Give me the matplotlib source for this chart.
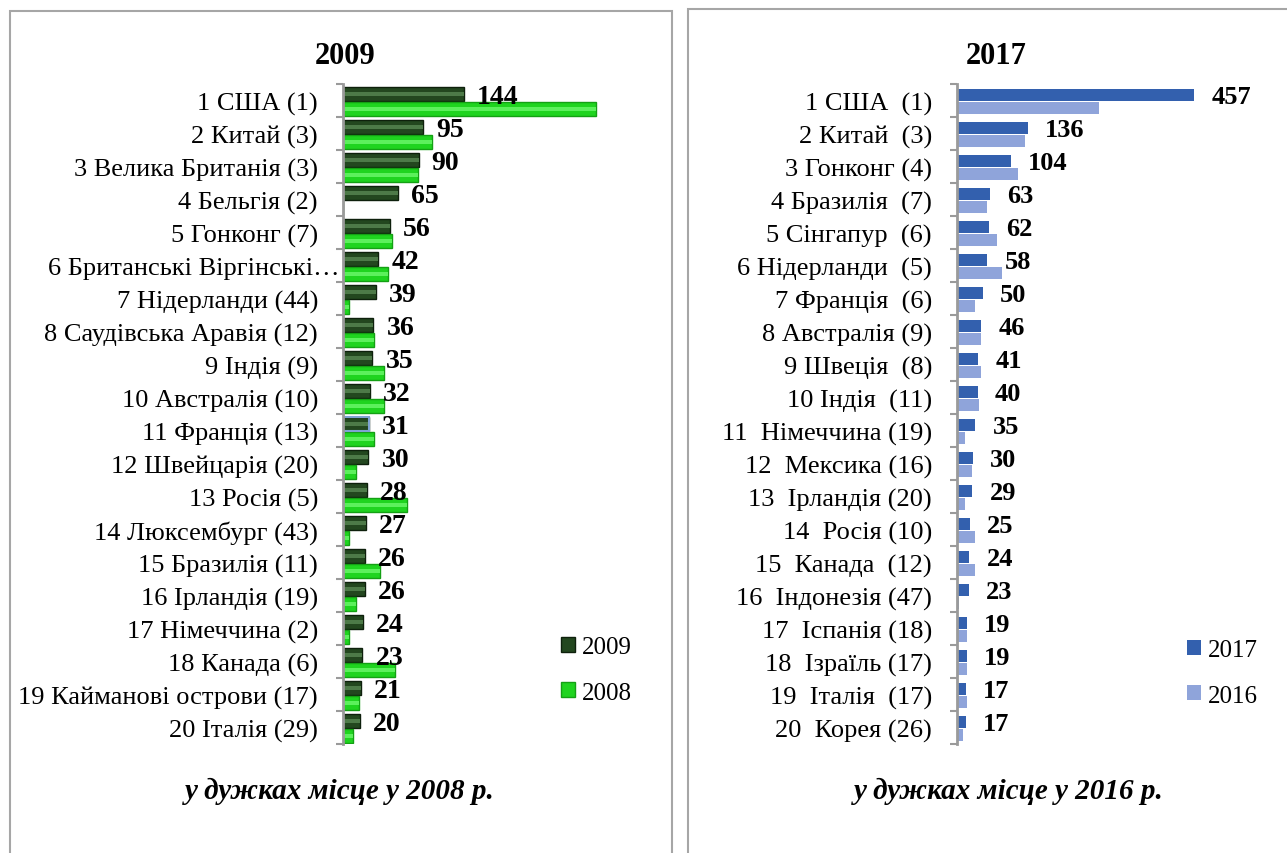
import numpy as np
import matplotlib.pyplot as plt
from matplotlib.patches import Rectangle, Patch
from matplotlib.transforms import ScaledTranslation

plt.rcParams['font.family'] = ['Liberation Serif', 'DejaVu Serif']

W, H = 1287, 854

# left chart: rating 2009, place in 2008 in brackets
labels_left = ['1 США (1)', '2 Китай (3)', '3 Велика Британія (3)', '4 Бельгія (2)',
               '5 Гонконг (7)', '6 Британські Віргінські…', '7 Нідерланди (44)',
               '8 Саудівська Аравія (12)', '9 Індія (9)', '10 Австралія (10)',
               '11 Франція (13)', '12 Швейцарія (20)', '13 Росія (5)',
               '14 Люксембург (43)', '15 Бразилія (11)', '16 Ірландія (19)',
               '17 Німеччина (2)', '18 Канада (6)', '19 Кайманові острови (17)',
               '20 Італія (29)']
vals_2009 = [144, 95, 90, 65, 56, 42, 39, 36, 35, 32, 31, 30, 28, 27, 26, 26, 24, 23, 21, 20]
vals_2008 = [301, 106, 89, 0, 58, 54, 7, 37, 49, 49, 37, 16, 76, 7, 44, 16, 7, 62, 19, 12]

# right chart: rating 2017, place in 2016 in brackets
labels_right = ['1 США  (1)', '2 Китай  (3)', '3 Гонконг (4)', '4 Бразилія  (7)',
                '5 Сінгапур  (6)', '6 Нідерланди  (5)', '7 Франція  (6)',
                '8 Австралія (9)', '9 Швеція  (8)', '10 Індія  (11)',
                '11  Німеччина (19)', '12  Мексика (16)', '13  Ірландія (20)',
                '14  Росія (10)', '15  Канада  (12)', '16  Індонезія (47)',
                '17  Іспанія (18)', '18  Ізраїль (17)', '19  Італія  (17)',
                '20  Корея (26)']
vals_2017 = [457, 136, 104, 63, 62, 58, 50, 46, 41, 40, 35, 30, 29, 25, 24, 23, 19, 19, 17, 17]
vals_2016 = [274, 132, 117, 58, 78, 86, 35, 47, 47, 43, 16, 28, 16, 35, 35, 4, 20, 20, 20, 12]

fig = plt.figure(figsize=(W / 100, H / 100), dpi=100)

# panel frames
fig.patches.append(Rectangle((10 / W, -0.1), 662 / W, 1.1 - 12 / H, transform=fig.transFigure,
                             fill=False, edgecolor='#a6a6a6', lw=1.5))
fig.patches.append(Rectangle((688 / W, -0.1), 0.5, 1.1 - 10 / H, transform=fig.transFigure,
                             fill=False, edgecolor='#a6a6a6', lw=1.5))


def add_ax(x0, x1, ytop, ybot):
    return fig.add_axes([x0 / W, 1 - ybot / H, (x1 - x0) / W, (ybot - ytop) / H])


def style(ax, labels, xmax):
    n = len(labels)
    ax.set_xlim(0, xmax)
    ax.set_ylim(n - 0.5, -0.5)
    ax.set_yticks(np.arange(n))
    ax.set_yticklabels(labels, fontsize=19)
    ax.set_yticks(np.arange(n + 1) - 0.5, minor=True)
    ax.tick_params(axis='y', which='major', length=0, pad=18)
    ax.tick_params(axis='y', which='minor', length=5, width=1.5, color='#9a9a9a')
    ax.set_xticks([])
    for s in ['top', 'right', 'bottom']:
        ax.spines[s].set_visible(False)
    ax.spines['left'].set_color('#9a9a9a')
    ax.spines['left'].set_linewidth(2)
    ax.patch.set_alpha(0)


y = np.arange(len(labels_left))

# ---- left chart
ax1 = add_ax(343, 620, 85, 745)
ax1.barh(y - 0.19, vals_2009, height=0.43, color='#23471f', edgecolor='#0e200c', lw=1)
ax1.barh(y - 0.19, vals_2009, height=0.12, color='#4d7a48', lw=0)
ax1.barh(y + 0.25, vals_2008, height=0.42, color='#1fd41f', edgecolor='#14a014', lw=1)
ax1.barh(y + 0.25, vals_2008, height=0.12, color='#5cf05c', lw=0)
# the selected bar (France) has a blue frame in the original
ax1.barh(y[10] - 0.19, vals_2009[10], height=0.43, fill=False, edgecolor='#7fa3d3', lw=1.5)
for i, v in enumerate(vals_2009):
    ax1.annotate(str(v), (v, i - 0.13), xytext=(9.5, 0), textcoords='offset points',
                 ha='left', va='center', fontsize=20, fontweight='bold')
style(ax1, labels_left, 330)
lbl = ax1.get_yticklabels()[5]
lbl.set_transform(lbl.get_transform() + ScaledTranslation(0.22, 0, fig.dpi_scale_trans))

fig.text(345 / W, 1 - 57 / H, '2009', ha='center', va='center', fontsize=22, fontweight='bold')
fig.text(340 / W, 1 - 791 / H, 'у дужках місце у 2008 р.', ha='center', va='center',
         fontsize=21, fontweight='bold', style='italic')
fig.legend(handles=[Patch(facecolor='#23471f', edgecolor='#0e200c'),
                    Patch(facecolor='#1fd41f', edgecolor='#14a014')],
           labels=['2009', '2008'], loc='upper left', bbox_to_anchor=(551 / W, 1 - 627 / H),
           frameon=False, fontsize=18, handlelength=0.55, handleheight=0.55,
           handletextpad=0.3, labelspacing=0.95, borderaxespad=0)

# ---- right chart
ax2 = add_ax(957, 1237, 85, 745)
ax2.barh(y - 0.16, vals_2017, height=0.38, color='#3360ae', lw=0)
ax2.barh(y + 0.22, vals_2016, height=0.37, color='#8fa4da', lw=0)
for i, v in enumerate(vals_2017):
    ax2.annotate(str(v), (v, i - 0.12), xytext=(12.5, 0), textcoords='offset points',
                 ha='left', va='center', fontsize=19, fontweight='bold')
style(ax2, labels_right, 540)

fig.text(996 / W, 1 - 57 / H, '2017', ha='center', va='center', fontsize=22, fontweight='bold')
fig.text(1009 / W, 1 - 791 / H, 'у дужках місце у 2016 р.', ha='center', va='center',
         fontsize=21, fontweight='bold', style='italic')
fig.legend(handles=[Patch(facecolor='#3360ae'), Patch(facecolor='#8fa4da')],
           labels=['2017', '2016'], loc='upper left', bbox_to_anchor=(1177 / W, 1 - 630 / H),
           frameon=False, fontsize=18, handlelength=0.55, handleheight=0.55,
           handletextpad=0.3, labelspacing=0.95, borderaxespad=0)

fig.savefig('out.png', dpi=100)
